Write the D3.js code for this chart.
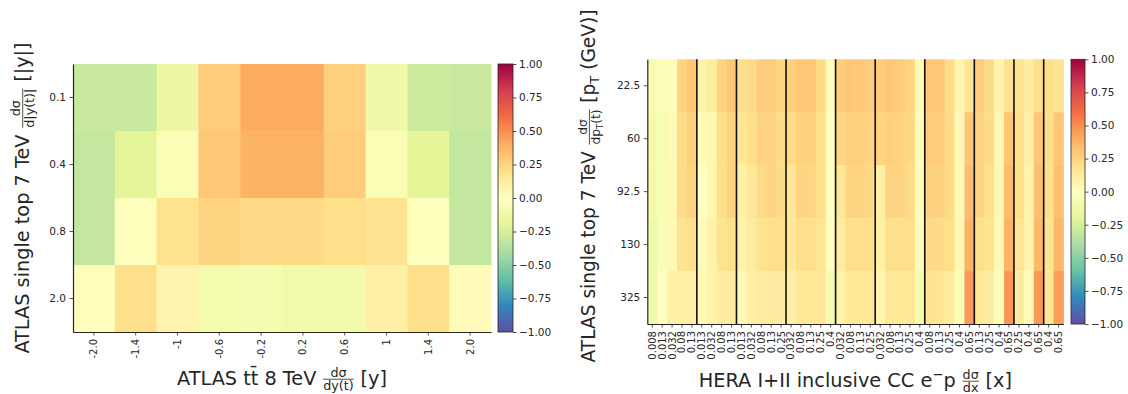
<!DOCTYPE html>
<html><head><meta charset="utf-8">
<script src="https://cdn.jsdelivr.net/npm/d3@7"></script>
<style>
body{margin:0;background:#fff}
text{font-family:"DejaVu Sans",sans-serif;fill:#262626}
</style>
</head><body>
<svg id="c" width="1128" height="394"></svg>
<script>
// ---------- DATA ----------
// Left chart: ATLAS ttbar 8 TeV dσ/dy(t) vs ATLAS single top 7 TeV dσ/d|y(t)|
const leftXLabels = ["-2.0","-1.4","-1","-0.6","-0.2","0.2","0.6","1","1.4","2.0"];
const leftYLabels = ["0.1","0.4","0.8","2.0"];
const leftRow01 = [-0.30,-0.30,-0.14, 0.28, 0.41, 0.41, 0.27,-0.12,-0.28,-0.30];
const leftRow04 = [-0.32,-0.21,-0.05, 0.30, 0.38, 0.38, 0.28,-0.05,-0.20,-0.32];
const leftRow08 = [-0.32,-0.02, 0.19, 0.25, 0.22, 0.22, 0.20, 0.18,-0.01,-0.32];
const leftRow20 = [ 0.01, 0.20, 0.07,-0.09,-0.08,-0.11,-0.10, 0.10, 0.20, 0.03];

// Right chart: HERA I+II inclusive CC e-p dσ/dx vs ATLAS single top 7 TeV dσ/dpT(t)
const rightXLabels = [
  "0.008","0.013","0.032","0.08","0.13",
  "0.013","0.032","0.08","0.13",
  "0.013","0.032","0.08","0.13","0.25",
  "0.032","0.08","0.13","0.25","0.4",
  "0.032","0.08","0.13","0.25",
  "0.032","0.08","0.13","0.25","0.4",
  "0.08","0.13","0.25","0.4","0.65",
  "0.13","0.25","0.4","0.65",
  "0.25","0.4","0.65",
  "0.4","0.65"];
const rightGroupSizes = [5,4,5,5,4,5,5,4,3,2];
const rightYLabels = ["22.5","60","92.5","130","325"];
const rightRow225 = [-0.06,-0.03,0.02,0.25,0.30, 0.08,0.12,0.25,0.30, 0.20,0.22,0.28,0.28,0.25, 0.27,0.30,0.30,0.22,0.02, 0.28,0.30,0.30,0.28, 0.28,0.30,0.28,0.25,0.03, 0.30,0.30,0.22,0.07,0.17, 0.28,0.22,0.07,0.18, 0.18,0.12,0.20, 0.20,0.18];
const rightRow60  = [-0.10,-0.07,0.03,0.22,0.27, 0.02,0.05,0.20,0.25, 0.15,0.20,0.25,0.25,0.22, 0.22,0.26,0.26,0.20,0.00, 0.25,0.27,0.27,0.25, 0.25,0.27,0.25,0.23,0.02, 0.28,0.28,0.22,0.04,0.30, 0.25,0.22,0.05,0.30, 0.20,0.10,0.30, 0.20,0.30];
const rightRow925 = [-0.10,-0.06,0.05,0.22,0.25, 0.00,0.05,0.20,0.25, 0.10,0.15,0.22,0.24,0.22, 0.15,0.24,0.24,0.20,0.00, 0.15,0.25,0.25,0.23, 0.10,0.25,0.24,0.22,0.02, 0.26,0.26,0.22,0.04,0.34, 0.24,0.20,0.05,0.35, 0.20,0.08,0.33, 0.20,0.33];
const rightRow130 = [-0.12,-0.04,0.04,0.18,0.20, 0.02,0.08,0.18,0.20, 0.08,0.12,0.18,0.20,0.20, 0.14,0.20,0.20,0.17,0.00, 0.12,0.20,0.20,0.20, 0.10,0.20,0.20,0.20,0.02, 0.22,0.22,0.20,0.05,0.38, 0.20,0.18,0.05,0.38, 0.17,0.07,0.36, 0.17,0.36];
const rightRow325 = [-0.13,0.00,0.10,0.10,0.10, 0.04,0.08,0.12,0.12, 0.03,0.10,0.12,0.12,0.12, 0.10,0.15,0.15,0.15,-0.08, 0.08,0.15,0.15,0.15, 0.06,0.15,0.15,0.15,-0.08, 0.18,0.16,0.12,-0.05,0.46, 0.15,0.12,-0.03,0.47, 0.12,0.02,0.47, 0.15,0.45];

const colorbarTicks = [1, 0.75, 0.5, 0.25, 0, -0.25, -0.5, -0.75, -1];

// ---------- COLOR (Spectral_r) ----------
const spectral = ["#5e4fa2","#3288bd","#66c2a5","#abdda4","#e6f598","#ffffbf","#fee08b","#fdae61","#f46d43","#d53e4f","#9e0142"];
const color = d3.scaleLinear().domain(d3.range(11).map(i => -1 + i*0.2)).range(spectral).interpolate(d3.interpolateRgb).clamp(true);

const svg = d3.select("#c");
const defs = svg.append("defs");
const AX = "#262626";

function fmtTick(v){ return (v<0?"\u2212":"") + Math.abs(v).toFixed(2); }

// text with optional sub/superscript segments
function segText(parent, x, y, segs, size){
  const t = parent.append("text").attr("x", x).attr("y", y).style("font-size", size+"px");
  let pending = 0;
  segs.forEach(s => {
    if (typeof s === "string") {
      const sp = t.append("tspan").text(s);
      if (pending) { sp.attr("dy", pending); pending = 0; }
    } else if (s.sub !== undefined) {
      t.append("tspan").attr("dy", size*0.22 + pending).style("font-size", (size*0.7)+"px").text(s.sub);
      pending = -size*0.22;
    } else if (s.sup !== undefined) {
      t.append("tspan").attr("dy", -size*0.4 + pending).style("font-size", (size*0.7)+"px").text(s.sup);
      pending = size*0.4;
    }
  });
  return t;
}
function richLabel(cx, cy, rot, size, parts){
  const g = svg.append("g").attr("transform", `translate(${cx},${cy}) rotate(${rot})`);
  const inner = g.append("g");
  let x = 0;
  parts.forEach(p => {
    if (p.gap !== undefined) { x += p.gap * size; return; }
    if (p.frac) {
      const fs = size*0.66;
      const axis = size*0.3;
      const n = segText(inner, 0, 0, p.frac[0], fs).attr("text-anchor","middle");
      const d = segText(inner, 0, 0, p.frac[1], fs).attr("text-anchor","middle");
      const w = Math.max(n.node().getComputedTextLength(), d.node().getComputedTextLength()) + 2;
      n.attr("x", x + w/2).attr("y", -axis - fs*0.2);
      d.attr("x", x + w/2).attr("y", -axis + fs*0.85);
      inner.append("line").attr("x1", x+1).attr("x2", x+w-1).attr("y1", -axis).attr("y2", -axis)
        .attr("stroke", AX).attr("stroke-width", 0.8);
      x += w;
      return;
    }
    const t = segText(inner, x, 0, p.t, size);
    x += t.node().getComputedTextLength();
  });
  inner.attr("transform", `translate(${-x/2},0)`);
}

function heatmap(opt){
  const {x0,x1,y0,y1,cols,rows,data,cb} = opt;
  const xs = d3.scaleBand().domain(d3.range(cols.length)).range([x0,x1]);
  const ys = d3.scaleBand().domain(d3.range(rows.length)).range([y0,y1]);
  const g = svg.append("g");
  data.forEach((row, ri) => {
    g.selectAll(null).data(row).enter().append("rect")
      .attr("x", (d,i) => xs(i)).attr("y", ys(ri))
      .attr("width", xs.bandwidth()+0.4).attr("height", ys.bandwidth()+0.4)
      .attr("fill", d => color(d));
  });
  // axes
  const xAxis = d3.axisBottom(xs).tickSize(3.5).tickSizeOuter(0).tickPadding(2).tickFormat(i => cols[i]);
  const xg = svg.append("g").attr("transform", `translate(0,${y1})`).call(xAxis);
  xg.select(".domain").attr("stroke", AX).attr("stroke-width", 1.2);
  xg.selectAll(".tick line").attr("stroke", AX).attr("stroke-width", 0.8);
  xg.selectAll(".tick text").attr("transform", "rotate(-90)").attr("text-anchor","end")
    .attr("x", -7).attr("y", 0).attr("dy", "0.35em").style("font-size","10px").attr("fill", AX);
  const yAxis = d3.axisLeft(ys).tickSize(3.5).tickSizeOuter(0).tickPadding(3.5).tickFormat(i => rows[i]);
  const yg = svg.append("g").attr("transform", `translate(${x0},0)`).call(yAxis);
  yg.select(".domain").attr("stroke", AX).attr("stroke-width", 1.2);
  yg.selectAll(".tick line").attr("stroke", AX).attr("stroke-width", 0.8);
  yg.selectAll(".tick text").style("font-size","10.5px").attr("fill", AX);
  // colorbar
  const id = "grad" + Math.round(cb.x);
  const grad = defs.append("linearGradient").attr("id", id).attr("x1",0).attr("y1",1).attr("x2",0).attr("y2",0);
  d3.range(0, 1.0001, 0.05).forEach(t => grad.append("stop").attr("offset", t).attr("stop-color", color(-1 + 2*t)));
  svg.append("rect").attr("x", cb.x).attr("y", y0).attr("width", cb.w).attr("height", y1-y0)
    .attr("fill", `url(#${id})`).attr("stroke", AX).attr("stroke-width", 0.8);
  const cs = d3.scaleLinear().domain([-1,1]).range([y1,y0]);
  const cg = svg.append("g").attr("transform", `translate(${cb.x+cb.w},0)`)
    .call(d3.axisRight(cs).tickValues(colorbarTicks).tickSize(3.5).tickPadding(2.5).tickFormat(fmtTick));
  cg.select(".domain").remove();
  cg.selectAll(".tick line").attr("stroke", AX).attr("stroke-width", 0.8);
  cg.selectAll(".tick text").style("font-size","10.5px").attr("fill", AX);
  return {xs, ys, g};
}

// ---------- LEFT ----------
heatmap({x0:73, x1:491, y0:64, y1:332, cols:leftXLabels, rows:leftYLabels,
  data:[leftRow01, leftRow04, leftRow08, leftRow20], cb:{x:498, w:15}});

richLabel(28.5, 198, -90, 19.3, [
  {t:["ATLAS single top 7 TeV"]}, {gap:0.3},
  {frac:[["d\u03c3"],["d|y(t)|"]]}, {gap:0.3}, {t:["[|y|]"]}]);
richLabel(282, 385, 0, 19.3, [
  {t:["ATLAS tt\u0304 8 TeV"]}, {gap:0.3},
  {frac:[["d\u03c3"],["dy(t)"]]}, {gap:0.3}, {t:["[y]"]}]);

// ---------- RIGHT ----------
const R = heatmap({x0:647.3, x1:1063.5, y0:59.3, y1:324, cols:rightXLabels, rows:rightYLabels,
  data:[rightRow225, rightRow60, rightRow925, rightRow130, rightRow325], cb:{x:1071, w:14}});
// group separators
let acc = 0;
rightGroupSizes.slice(0,-1).forEach(s => {
  acc += s;
  const xx = R.xs(acc);
  svg.append("line").attr("x1", xx).attr("x2", xx).attr("y1", 59.3).attr("y2", 324)
    .attr("stroke", "#111").attr("stroke-width", 1.6);
});

richLabel(595, 186, -90, 18.6, [
  {t:["ATLAS single top 7 TeV"]}, {gap:0.3},
  {frac:[["d\u03c3"],["dp", {sub:"T"}, "(t)"]]}, {gap:0.3}, {t:["[p", {sub:"T"}, " (GeV)]"]}]);
richLabel(855.4, 387, 0, 19.3, [
  {t:["HERA I+II inclusive CC e", {sup:"\u2212"}, "p"]}, {gap:0.3},
  {frac:[["d\u03c3"],["dx"]]}, {gap:0.3}, {t:["[x]"]}]);
</script>
</body></html>
